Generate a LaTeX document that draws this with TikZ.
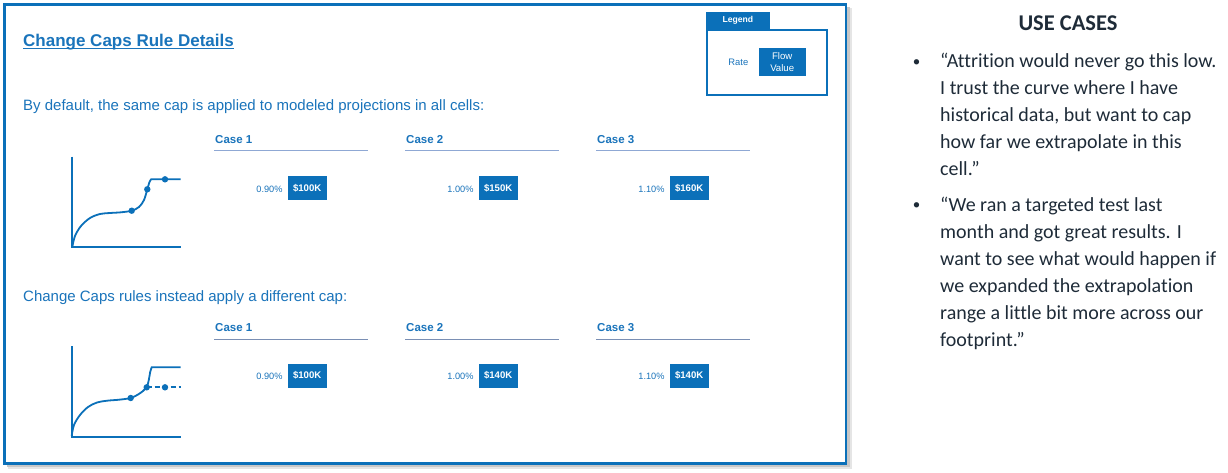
\documentclass[tikz,border=0pt]{standalone}
\usepackage{fontspec}
\setmainfont{Liberation Sans}
\newfontfamily\calib[Ligatures=NoCommon]{Carlito}
\definecolor{mblue}{HTML}{0B70B9}
\definecolor{tblue}{HTML}{1A74BB}
\definecolor{caseline}{HTML}{8FA8D4}
\definecolor{navy}{HTML}{1E2B38}
\begin{document}
\begin{tikzpicture}[x=1pt,y=-1pt,
  txt/.style={inner sep=0pt, text=tblue},
  caselab/.style={txt, anchor=west, font=\fontsize{11.5}{13}\selectfont\bfseries},
  pct/.style={txt, anchor=east, font=\fontsize{9.2}{11}\selectfont},
  valbox/.style={fill=mblue, text=white, inner sep=0pt, minimum width=39pt, minimum height=24pt, font=\fontsize{9.6}{11}\selectfont\bfseries},
  cline/.style={draw=caseline, line width=1.4pt},
  axis/.style={draw=mblue, line width=2pt},
  curve/.style={draw=mblue, line width=1.8pt},
  dot/.style={fill=mblue},
  rtext/.style={anchor=base west, inner sep=0pt, text=navy, font=\calib\fontsize{20}{24}\selectfont},
  bul/.style={anchor=base, inner sep=0pt, text=navy, font=\calib\fontsize{15}{18}\selectfont}
]
\useasboundingbox (0,0) rectangle (1228,472);
% main panel with shadow
\fill[black!10] (8,8) rectangle (851.5,468.5);
\fill[black!22] (7,7) rectangle (849.5,466.5);
\draw[mblue, line width=2.6pt, fill=white] (4.7,4.7) rectangle (846,463.5);
% title
\node[txt, anchor=base west, font=\fontsize{17}{20}\selectfont\bfseries] (title) at (23,46) {Change Caps Rule Details};
\draw[tblue, line width=1.1pt] ([yshift=-2.4pt]title.base west) -- ([yshift=-2.4pt]title.base east);
% legend
\fill[mblue] (705.7,11.7) rectangle (770,29.3);
\node[inner sep=0pt, text=white, font=\fontsize{8.6}{10}\selectfont\bfseries] (legtitle) at (737.9,20.5) {Legend};
\draw[mblue, line width=2pt] (706.7,30) rectangle (827.3,94.7);
\node[txt, font=\fontsize{9.4}{11}\selectfont] (legrate) at (738.3,62) {Rate};
\node[valbox, minimum width=47pt, minimum height=28pt, align=center, font=\fontsize{9.6}{11.6}\selectfont] (legflow) at (782.2,62.2) {Flow\\Value};
% headings
\node[txt, anchor=base west, font=\fontsize{15}{18}\selectfont] (h1) at (23,110) {By default, the same cap is applied to modeled projections in all cells:};
\node[txt, anchor=base west, font=\fontsize{15}{18}\selectfont] (h2) at (23,301) {Change Caps rules instead apply a different cap:};
% cases row 1
\foreach \x/\n/\p/\v in {214/1/0.90/100, 405/2/1.00/150, 596/3/1.10/160}{
  \node[caselab] (ra\n lab) at (\x+1,140) {Case \n};
  \draw[cline] (\x,150.7) -- (\x+154,150.7);
  \node[pct] (ra\n pct) at (\x+68.7,189) {\p\%};
  \node[valbox] (ra\n val) at (\x+93.2,188) {\$\v K};
}
% cases row 2
\foreach \x/\n/\p/\v in {214/1/0.90/100, 405/2/1.00/140, 596/3/1.10/140}{
  \node[caselab] (rb\n lab) at (\x+1,327.5) {Case \n};
  \draw[cline, draw=caseline!85!black, line width=1.2pt] (\x,339.3) -- (\x+154,339.3);
  \node[pct] (rb\n pct) at (\x+68.7,376.5) {\p\%};
  \node[valbox] (rb\n val) at (\x+93.2,375.5) {\$\v K};
}
% chart 1
\draw[axis] (72.3,156.7) -- (72.3,247.3) -- (180.7,247.3);
\draw[curve] plot[smooth, tension=0.55] coordinates {(72.3,247) (75,236) (81,226) (90,218) (100,214) (110,213) (121,212.3) (131.7,210.7) (139,207) (144,200) (147.3,189.3) (149.5,182) (151.2,179.3)} -- (180.7,179.3);
\fill[dot] (131.7,210.7) circle (3.2pt);
\fill[dot] (147.3,189.3) circle (3.2pt);
\fill[dot] (165,179.3) circle (3.2pt);
% chart 2
\draw[axis] (71.7,346) -- (71.7,436.7) -- (180.7,436.7);
\draw[curve] plot[smooth, tension=0.55] coordinates {(71.7,436) (74,425) (80,415) (88,407) (97,402.5) (107,400.7) (119,399.7) (130.7,398) (138,394.5) (143,391) (146.7,387.3) (148.8,380) (150.2,372) (151.7,367.3)} -- (180.7,367.3);
\draw[curve, dashed, dash pattern=on 5pt off 3pt] (146.7,387.3) -- (180.7,387.3);
\fill[dot] (130.7,398) circle (3.2pt);
\fill[dot] (146.7,387.3) circle (3.2pt);
\fill[dot] (165,387.3) circle (3.2pt);
% right side
\node[anchor=base, inner sep=0pt, text=navy, font=\calib\fontsize{22.5}{26}\selectfont\bfseries] (uc) at (1068,30) {USE CASES};
\node[bul] (b1) at (916.5,66) {•};
\node[rtext] (l1) at (940,67.5) {“Attrition would never go this low.};
\node[rtext] (l2) at (940,94.4) {I trust the curve where I have};
\node[rtext] (l3) at (940,121.5) {historical data, but want to cap};
\node[rtext] (l4) at (940,148.5) {how far we extrapolate in this};
\node[rtext] (l5) at (940,175.5) {cell.”};
\node[bul] (b2) at (916.5,209.5) {•};
\node[rtext] (m1) at (940,211) {“We ran a targeted test last};
\node[rtext] (m2) at (940,238) {month and got great results. I};
\node[rtext] (m3) at (940,265) {want to see what would happen if};
\node[rtext] (m4) at (940,292) {we expanded the extrapolation};
\node[rtext] (m5) at (940,319) {range a little bit more across our};
\node[rtext] (m6) at (940,346) {footprint.”};
\end{tikzpicture}
\end{document}
